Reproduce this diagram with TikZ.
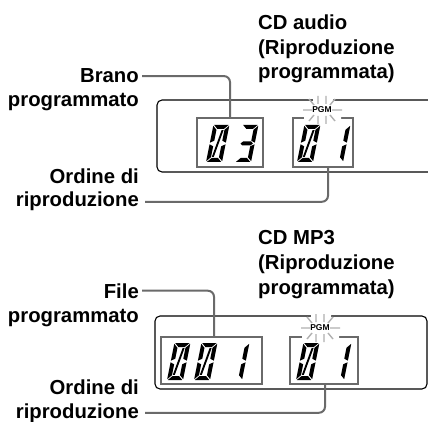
\documentclass[tikz,border=0pt]{standalone}
\usepackage{fontspec}
\setmainfont{Liberation Sans}
\usetikzlibrary{positioning,calc}
\definecolor{Lead}{HTML}{6A6A6A}
\definecolor{Ray}{HTML}{B0B0B0}

% segments of an lcd digit, drawn upwards from (0,0)
\tikzset{
  seg a/.style={insert path={(0.8,-37)--(15.2,-37)--(11.2,-33)--(4.8,-33)--cycle}},
  seg b/.style={insert path={(16,-36.2)--(12,-32.2)--(12,-21.3)--(16,-19.3)--cycle}},
  seg c/.style={insert path={(16,-17.7)--(12,-15.7)--(12,-4.8)--(16,-0.8)--cycle}},
  seg d/.style={insert path={(0.8,0)--(15.2,0)--(11.2,-4)--(4.8,-4)--cycle}},
  seg e/.style={insert path={(0,-17.7)--(4,-15.7)--(4,-4.8)--(0,-0.8)--cycle}},
  seg f/.style={insert path={(0,-36.2)--(4,-32.2)--(4,-21.3)--(0,-19.3)--cycle}},
  seg g/.style={insert path={(1.8,-18.5)--(4,-20.5)--(12,-20.5)--(14.2,-18.5)--(12,-16.5)--(4,-16.5)--cycle}},
  seg z/.style={insert path={(4.8,-5.2)--(6.8,-5.2)--(11.2,-31.8)--(9.2,-31.8)--cycle}}
}
% one lcd digit, lower left corner at (#1,#2)
\newcommand\lcddigit[3]{%
  \begin{scope}[shift={(#1,#2)},xslant=0.2]
    \foreach \s in {#3} {\fill[seg \s];}
  \end{scope}}
\newcommand\pgmsign[2]{%
  \node[pgm] (pgm#1) at (#2) {PGM};
  \draw[ray] ($(pgm#1)+(-19,0)$) -- +(9,0) ($(pgm#1)+(10,0)$) -- +(10,0)
    ($(pgm#1)+(-13,-11)$) -- +(5,6) ($(pgm#1)+(-4,-14)$) -- +(0,8)
    ($(pgm#1)+(4,-14)$) -- +(0,8) ($(pgm#1)+(13,-11)$) -- +(-5,6)
    ($(pgm#1)+(-13,11)$) -- +(5,-6) ($(pgm#1)+(-4,14)$) -- +(0,-8)
    ($(pgm#1)+(4,14)$) -- +(0,-8) ($(pgm#1)+(13,11)$) -- +(-5,-6);}

\begin{document}
\begin{tikzpicture}[x=1pt,y=-1pt,
  lbl/.style={anchor=base east,inner sep=0pt,font=\fontsize{20.3}{24.5}\selectfont\bfseries},
  head/.style={anchor=base west,inner sep=0pt,align=left,font=\fontsize{20.3}{24.8}\selectfont\bfseries},
  lcd/.style={draw=Lead,line width=2.2pt,inner sep=0pt},
  lead/.style={draw=Lead,line width=2pt,rounded corners=6pt},
  frame/.style={draw=black,line width=1.1pt,rounded corners=5pt},
  ray/.style={draw=Ray,line width=1.4pt},
  pgm/.style={inner sep=0pt,font=\fontsize{8.5}{8.5}\selectfont\bfseries}]
\useasboundingbox[fill=white] (0,0) rectangle (428,422);

% CD audio
\node[head] (cdA) at (258,79) {CD audio\\(Riproduzione\\programmata)};
\node[lbl] (brano) at (139,83) {Brano};
\node[lbl] (progA) at (139,107) {programmato};
\node[lbl] (ordA) at (139,183) {Ordine di};
\node[lbl] (ripA) at (139,207) {riproduzione};
\draw[frame] (428,100) -| (157,172) -- (428,172);
\node[lcd,minimum width=66pt,minimum height=49pt] (trkA) at (230,142.5) {};
\node[lcd,minimum width=60pt,minimum height=49pt] (seqA) at (323,142.5) {};
\fill[white] (313,96) rectangle (333,104) (304,114) rectangle (341,122);
\pgmsign{A}{322,110}
\lcddigit{206}{162}{a,b,c,d,e,f,z}
\lcddigit{235}{162}{a,b,c,d,g}
\lcddigit{297}{162}{a,b,c,d,e,f,z}
\lcddigit{327}{162}{b,c}
\draw[lead] ([xshift=3pt]brano.east) -| (trkA.north);
\draw[lead] ([xshift=6pt]ripA.east) -| ([xshift=5pt]seqA.south);

% CD MP3
\node[head] (cdB) at (258,294) {CD MP3\\(Riproduzione\\programmata)};
\node[lbl] (file) at (139,298) {File};
\node[lbl] (progB) at (139,322) {programmato};
\node[lbl] (ordB) at (139,394) {Ordine di};
\node[lbl] (ripB) at (139,418) {riproduzione};
\draw[frame] (155,316) rectangle (427,389);
\node[lcd,minimum width=101pt,minimum height=47pt] (trkB) at (211.5,360.5) {};
\node[lcd,minimum width=68pt,minimum height=47pt] (seqB) at (324,360.5) {};
\fill[white] (311,314) rectangle (331,322) (302,332) rectangle (339,340);
\pgmsign{B}{320,328}
\lcddigit{167}{380}{a,b,c,d,e,f,z}
\lcddigit{194}{380}{a,b,c,d,e,f,z}
\lcddigit{226}{380}{b,c}
\lcddigit{296}{380}{a,b,c,d,e,f,z}
\lcddigit{328}{380}{b,c}
\draw[lead] ([xshift=3pt]file.east) -| ([xshift=2.5pt]trkB.north);
\draw[lead] ([xshift=6pt]ripB.east) -| ([xshift=1pt]seqB.south);
\end{tikzpicture}
\end{document}
